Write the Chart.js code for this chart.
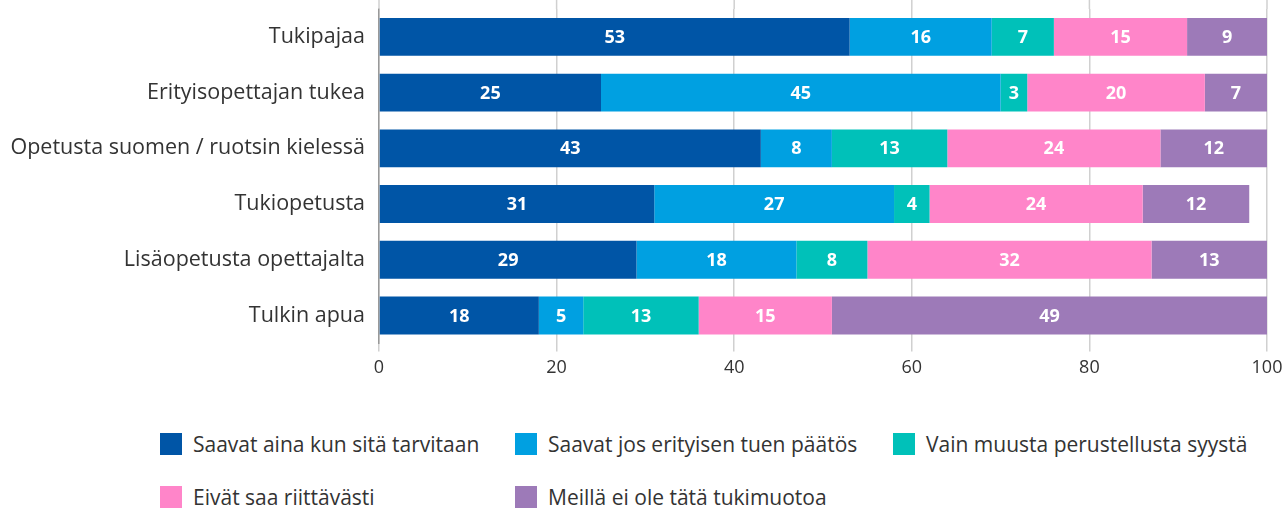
<!DOCTYPE html>
<html>
<head>
<meta charset="utf-8">
<script src="https://cdn.jsdelivr.net/npm/chart.js@4"></script>
<style>
  html, body { margin: 0; padding: 0; background: #fff; overflow: hidden; }
  #wrap { position: relative; width: 1283px; height: 508px; font-family: "Open Sans", sans-serif; overflow: hidden; }
  #chart-box { position: absolute; left: 0; top: 0; width: 1283px; height: 400px; }
  #legend { position: absolute; left: 160px; top: 430px; width: 1120px; }
  .leg-item { position: absolute; display: flex; align-items: center; font-size: 21px; color: #333; white-space: nowrap; }
  .leg-item span.box { width: 22px; height: 22px; margin-right: 11px; display: inline-block; }
</style>
</head>
<body>
<div id="wrap">
  <div id="chart-box"><canvas id="chart"></canvas></div>
  <div id="legend"></div>
</div>
<script>
// categories and series
const categories = [
  'Tukipajaa',
  'Erityisopettajan tukea',
  'Opetusta suomen / ruotsin kielessä',
  'Tukiopetusta',
  'Lisäopetusta opettajalta',
  'Tulkin apua'
];
const seriesNames = [
  'Saavat aina kun sitä tarvitaan',
  'Saavat jos erityisen tuen päätös',
  'Vain muusta perustellusta syystä',
  'Eivät saa riittävästi',
  'Meillä ei ole tätä tukimuotoa'
];
const aina     = [53, 25, 43, 31, 29, 18];
const paatos   = [16, 45,  8, 27, 18,  5];
const muusta   = [ 7,  3, 13,  4,  8, 13];
const eivatSaa = [15, 20, 24, 24, 32, 15];
const eiOle    = [ 9,  7, 12, 12, 13, 49];
const xTicks = [0, 20, 40, 60, 80, 100];

const colors = ['#0055a6', '#00a0e1', '#00c1b9', '#ff85c9', '#9d7ab8'];
const values = [aina, paatos, muusta, eivatSaa, eiOle];

// white numbers in the middle of each segment
const barLabels = {
  id: 'barLabels',
  afterDatasetsDraw(chart) {
    const ctx = chart.ctx;
    ctx.save();
    ctx.fillStyle = '#fff';
    ctx.font = 'bold 18px "Open Sans", sans-serif';
    ctx.textAlign = 'center';
    ctx.textBaseline = 'middle';
    chart.data.datasets.forEach((ds, i) => {
      chart.getDatasetMeta(i).data.forEach((bar, j) => {
        const p = bar.getCenterPoint();
        ctx.fillText(ds.data[j], p.x, p.y + 1);
      });
    });
    ctx.restore();
  }
};

// the grid lines run up to the top edge of the picture
const gridToTop = {
  id: 'gridToTop',
  beforeDatasetsDraw(chart) {
    const { ctx, chartArea, scales: { x } } = chart;
    ctx.save();
    ctx.strokeStyle = '#d0d0d0';
    ctx.lineWidth = 1.5;
    xTicks.forEach(v => {
      const px = x.getPixelForValue(v);
      ctx.beginPath();
      ctx.moveTo(px, 0);
      ctx.lineTo(px, chartArea.top);
      ctx.stroke();
    });
    ctx.restore();
  }
};

new Chart(document.getElementById('chart'), {
  type: 'bar',
  data: {
    labels: categories,
    datasets: seriesNames.map((name, i) => ({
      label: name,
      data: values[i],
      backgroundColor: colors[i],
      borderWidth: 0,
      categoryPercentage: 0.68,
      barPercentage: 1
    }))
  },
  options: {
    indexAxis: 'y',
    responsive: true, maintainAspectRatio: false,
    animation: false,
    layout: { padding: { top: 9, right: 16, bottom: 15, left: 0 } },
    plugins: { legend: { display: false }, tooltip: { enabled: false } },
    scales: {
      x: {
        stacked: true, min: 0, max: 100,
        afterBuildTicks: s => { s.ticks = xTicks.map(v => ({ value: v })); },
        afterFit: s => { s.paddingLeft = 0; s.paddingRight = 0; },
        grid: { color: '#d0d0d0', lineWidth: 1.5, tickLength: 8 },
        border: { display: false },
        ticks: { color: '#333', font: { size: 18, family: '"Open Sans", sans-serif' }, padding: 6 }
      },
      y: {
        stacked: true,
        afterFit: s => { s.width = 379; s.paddingTop = 0; s.paddingBottom = 0; },
        grid: { display: false },
        border: { display: true, color: '#999', width: 1.5 },
        ticks: { color: '#333', font: { size: 21.5, family: '"Open Sans", sans-serif' }, padding: 6 }
      }
    }
  },
  plugins: [gridToTop, barLabels]
});

// legend laid out in fixed columns, as in the reference
const legendPos = [[0, 0], [355, 0], [733, 0], [0, 53], [355, 53]];
const legend = document.getElementById('legend');
seriesNames.forEach((name, i) => {
  const item = document.createElement('div');
  item.className = 'leg-item';
  item.style.left = legendPos[i][0] + 'px';
  item.style.top = legendPos[i][1] + 'px';
  item.innerHTML = `<span class="box" style="background:${colors[i]}"></span>${name}`;
  legend.appendChild(item);
});
</script>
</body>
</html>
